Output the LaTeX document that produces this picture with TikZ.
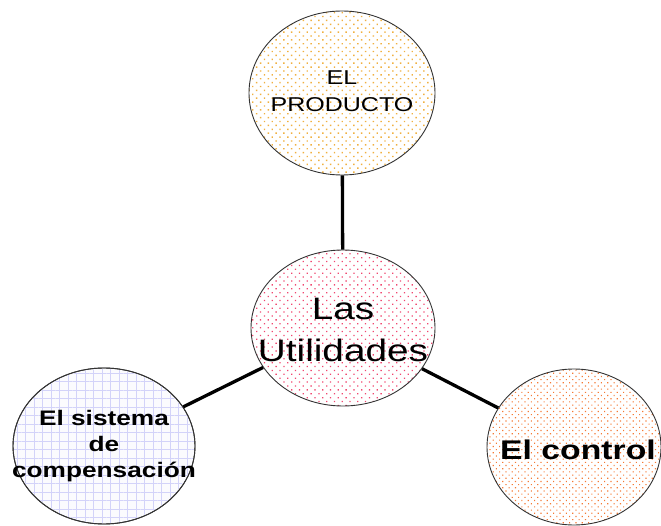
\documentclass[tikz,border=0pt]{standalone}
\usepackage{fontspec}
\setmainfont{Liberation Sans}
\newfontfamily\widefont[FakeStretch=1.25]{Liberation Sans}
\usetikzlibrary{shapes.geometric,patterns.meta}
\definecolor{dotyellow}{HTML}{F0B040}
\definecolor{dotpink}{HTML}{F04870}
\definecolor{gridblue}{HTML}{9090F0}
\definecolor{dotorange}{HTML}{F57A35}
\tikzset{
  bubble/.style={ellipse, draw=black!80, line width=0.9pt, inner sep=0pt},
  label text/.style={align=center, inner sep=0pt},
  link/.style={line width=3.3pt, black},
}
\begin{document}
\begin{tikzpicture}[x=1pt,y=-1pt]
\useasboundingbox (0,0) rectangle (661,526);
% top
\node[bubble, minimum width=186pt, minimum height=164pt,
  pattern={Dots[distance=5.5pt,radius=1pt,angle=45]}, pattern color=dotyellow] (prod) at (342,93) {};
\node[label text, font=\widefont\fontsize{20}{27}\selectfont] (prodtext) at (342,91) {EL\\PRODUCTO};
% center
\node[bubble, minimum width=184pt, minimum height=156pt,
  pattern={Dots[distance=5.5pt,radius=0.9pt,angle=45]}, pattern color=dotpink] (util) at (343,328) {};
\node[label text, font=\widefont\fontsize{31}{42}\selectfont] (utiltext) at (343,330) {Las\\Utilidades};
% left
\node[bubble, minimum width=182pt, minimum height=156pt, fill=gridblue!4] (comp) at (104,446) {};
\fill[pattern={Hatch[distance=8.5pt,line width=0.3pt,angle=0]}, pattern color=gridblue!40]
  (104,446) ellipse [x radius=90pt, y radius=77pt];
\draw[draw=black!80, line width=0.9pt] (104,446) ellipse [x radius=91pt, y radius=78pt];
\node[label text, font=\widefont\bfseries\fontsize{21}{26}\selectfont] (comptext) at (104,446) {El sistema\\de\\compensación};
% right
\node[bubble, minimum width=174pt, minimum height=156pt,
  pattern={Dots[distance=4.5pt,radius=0.8pt,angle=45]}, pattern color=dotorange] (ctrl) at (574,447) {};
\node[label text, font=\widefont\bfseries\fontsize{27}{32}\selectfont] (ctrltext) at (578,450) {El control};
% connectors
\draw[link] (util) -- (prod);
\draw[link] (util) -- (comp);
\draw[link] (util) -- (ctrl);
\end{tikzpicture}
\end{document}
